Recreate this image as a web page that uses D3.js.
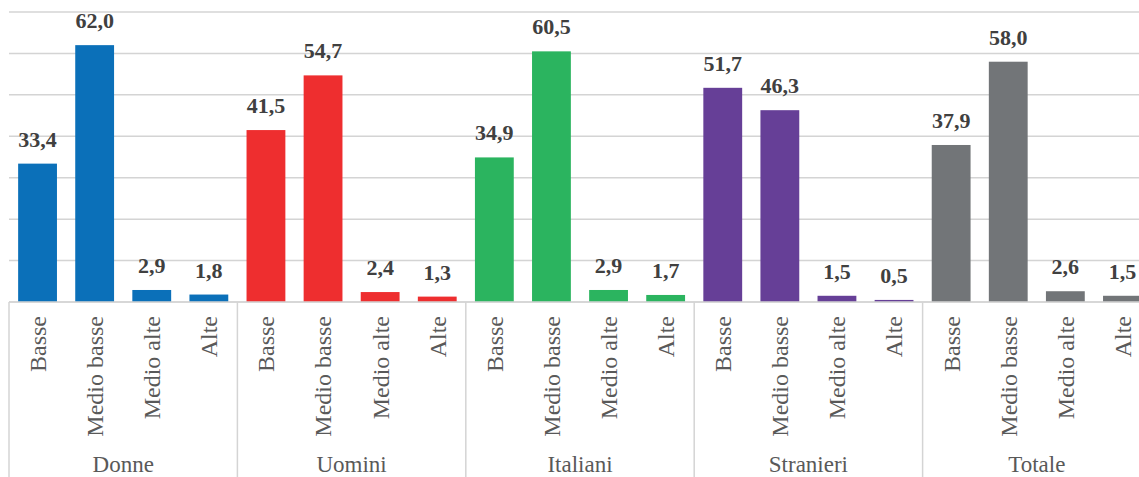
<!DOCTYPE html>
<html><head><meta charset="utf-8">
<script src="https://cdn.jsdelivr.net/npm/d3@7"></script>
<style>html,body{margin:0;padding:0;background:#fff;overflow:hidden}</style>
</head><body>
<svg id="chart" width="1139" height="477"></svg>
<script>
const groups = ["Donne", "Uomini", "Italiani", "Stranieri", "Totale"];
const levels = ["Basse", "Medio basse", "Medio alte", "Alte"];
const donne = [33.4, 62.0, 2.9, 1.8];
const uomini = [41.5, 54.7, 2.4, 1.3];
const italiani = [34.9, 60.5, 2.9, 1.7];
const stranieri = [51.7, 46.3, 1.5, 0.5];
const totale = [37.9, 58.0, 2.6, 1.5];
const groupColors = ["#0B70B9", "#EE2E2F", "#2BB45F", "#663F97", "#727578"];
const yTicks = [0, 10, 20, 30, 40, 50, 60, 70];

(function () {
const seriesValues = [donne, uomini, italiani, stranieri, totale];
const data = [];
groups.forEach((g, gi) => levels.forEach((l, li) => data.push({group: g, level: l, value: seriesValues[gi][li], color: groupColors[gi]})));

const svg = d3.select("#chart");
const font = "'Liberation Serif', 'Times New Roman', serif";
const plotTop = 12, base = 302, left = 9, right = 1151;
const y = d3.scaleLinear().domain([0, 70]).range([base, plotTop]);
const xg = d3.scaleBand().domain(groups).range([left, right]).padding(0);
const xl = d3.scaleBand().domain(levels).range([0, xg.bandwidth()]).paddingInner(0.32).paddingOuter(0.16);
const gridColor = "#d4d4d4";

svg.append("g").selectAll("line").data(yTicks).join("line")
  .attr("x1", left).attr("x2", 1139)
  .attr("y1", d => y(d)).attr("y2", d => y(d))
  .attr("stroke", gridColor).attr("stroke-width", 1.5);

const gg = svg.append("g").selectAll("g").data(data).join("g")
  .attr("transform", d => `translate(${xg(d.group)},0)`);
gg.append("rect")
  .attr("x", d => xl(d.level)).attr("width", xl.bandwidth())
  .attr("y", d => y(d.value)).attr("height", d => base - y(d.value))
  .attr("fill", d => d.color);
gg.append("text")
  .attr("x", d => xl(d.level) + xl.bandwidth() / 2)
  .attr("y", d => y(d.value) - 17)
  .attr("text-anchor", "middle")
  .attr("font-family", font)
  .attr("font-weight", "bold").attr("font-size", 22).attr("fill", "#404040")
  .text(d => d.value.toFixed(1).replace(".", ","));

gg.append("text")
  .attr("transform", d => `translate(${xl(d.level) + xl.bandwidth() / 2},316) rotate(-90)`)
  .attr("dy", "0.35em")
  .attr("text-anchor", "end")
  .attr("font-family", font)
  .attr("font-size", 24).attr("fill", "#595959")
  .text(d => d.level);

svg.append("line").attr("x1", left).attr("x2", 1139).attr("y1", base).attr("y2", base)
  .attr("stroke", gridColor).attr("stroke-width", 1.5);
svg.append("g").selectAll("line").data(groups).join("line")
  .attr("x1", d => xg(d)).attr("x2", d => xg(d))
  .attr("y1", base).attr("y2", 477)
  .attr("stroke", gridColor).attr("stroke-width", 1.5);
svg.append("g").selectAll("text").data(groups).join("text")
  .attr("x", d => xg(d) + xg.bandwidth() / 2).attr("y", 472)
  .attr("text-anchor", "middle")
  .attr("font-family", font)
  .attr("font-size", 23).attr("fill", "#595959")
  .text(d => d);
})();
</script>
</body></html>
